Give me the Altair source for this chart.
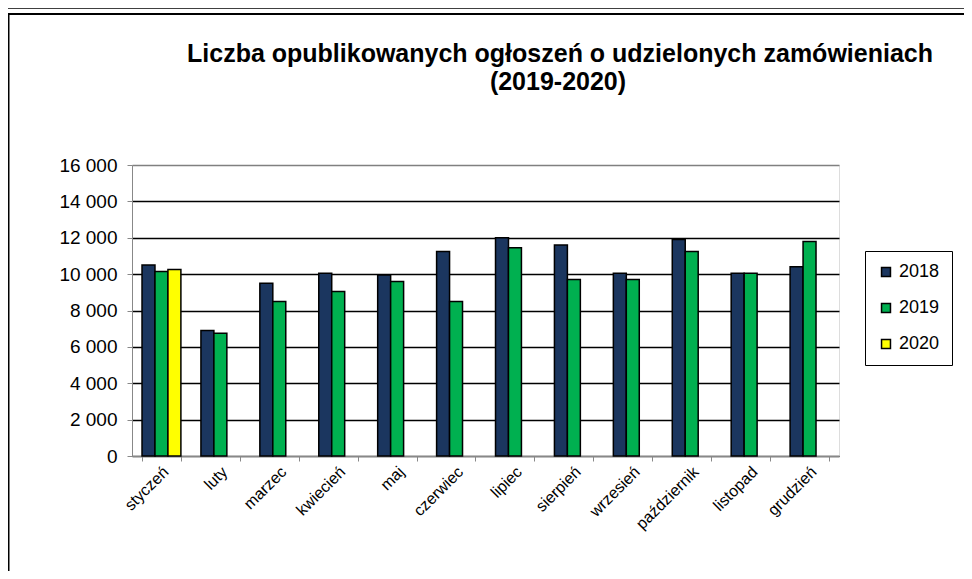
import altair as alt
import pandas as pd

months = ["styczeń", "luty", "marzec", "kwiecień", "maj", "czerwiec", "lipiec",
          "sierpień", "wrzesień", "październik", "listopad", "grudzień"]
v2018 = [10500, 6900, 9500, 10050, 9950, 11250, 12000, 11600, 10050, 11900, 10050, 10400]
v2019 = [10150, 6750, 8500, 9050, 9600, 8500, 11450, 9700, 9700, 11250, 10050, 11800]
v2020 = [10250]
years = ["2018", "2019", "2020"]
colors = ["#1B365F", "#00B050", "#FFFF00"]
y_ticks = [0, 2000, 4000, 6000, 8000, 10000, 12000, 14000, 16000]
title_line1 = "Liczba opublikowanych ogłoszeń o udzielonych zamówieniach"
title_line2 = "(2019-2020)"

rows = []
for series, year in ((v2018, "2018"), (v2019, "2019"), (v2020, "2020")):
    for m, v in zip(months, series):
        rows.append({"month": m, "year": year, "value": v})
df = pd.DataFrame(rows)

FONT = "Liberation Sans"

bars = alt.Chart(df).mark_bar(stroke="black", strokeWidth=1.5).encode(
    x=alt.X("month:N", sort=months,
            scale=alt.Scale(paddingInner=0.34, paddingOuter=0.17),
            axis=alt.Axis(title=None, labelAngle=-45, labelAlign="right", labelBaseline="middle",
                          tickBand="extent", tickSize=5, labelFontSize=16, labelPadding=8,
                          labelOffset=4, grid=False)),
    xOffset=alt.XOffset("year:N", scale=alt.Scale(domain=years, paddingInner=0, paddingOuter=0)),
    y=alt.Y("value:Q", scale=alt.Scale(domain=[0, 16000], nice=False),
            axis=alt.Axis(title=None, values=y_ticks, tickSize=5, labelPadding=10,
                          labelFontSize=19,
                          labelExpr="replace(format(datum.value, ','), ',', ' ')",
                          grid=True,
                          gridColor={"condition": {"test": "datum.value >= 16000", "value": "#808080"},
                                     "value": "black"},
                          gridWidth=1.5)),
    color=alt.Color("year:N", scale=alt.Scale(domain=years, range=colors),
                    legend=alt.Legend(title=None, orient="none", legendX=733, legendY=86,
                                      strokeColor="black", fillColor="white", padding=12,
                                      rowPadding=18, symbolType="square", symbolSize=80,
                                      symbolStrokeColor="black", symbolStrokeWidth=1.5,
                                      labelFontSize=18, labelOffset=4, labelFont=FONT)),
)

one = alt.Data(values=[{"k": 1}])
top_thick = alt.Chart(one).mark_rule(color="black", strokeWidth=2.5).encode(
    x=alt.value(-130), x2=alt.value(845), y=alt.value(-157.5))
top_thin = alt.Chart(one).mark_rule(color="black", strokeWidth=2).encode(
    x=alt.value(-124), x2=alt.value(845), y=alt.value(-151))
left_line = alt.Chart(one).mark_rule(color="black", strokeWidth=2).encode(
    x=alt.value(-123.5), y=alt.value(-152), y2=alt.value(420))

t1 = alt.Chart(one).mark_text(font=FONT, fontSize=25, fontWeight="bold", color="black",
                              align="center", baseline="alphabetic").encode(
    x=alt.value(428), y=alt.value(-103), text=alt.value(title_line1))
t2 = alt.Chart(one).mark_text(font=FONT, fontSize=25, fontWeight="bold", color="black",
                              align="center", baseline="alphabetic").encode(
    x=alt.value(426), y=alt.value(-75), text=alt.value(title_line2))

chart = alt.layer(bars, top_thick, top_thin, left_line, t1, t2).properties(
    width=707, height=291,
    autosize=alt.AutoSizeParams(type="none"),
    padding={"left": 124, "top": 157, "right": 125, "bottom": 115},
).configure_view(
    fill="#C0C0C0", stroke="#808080", strokeWidth=1.5
).configure_axis(
    labelFont=FONT, labelColor="black", domainColor="black", domainWidth=1.5,
    tickColor="black", tickWidth=1.5
).configure(background="white")

chart.save("out.html", embed_options={"renderer": "svg", "actions": False})
